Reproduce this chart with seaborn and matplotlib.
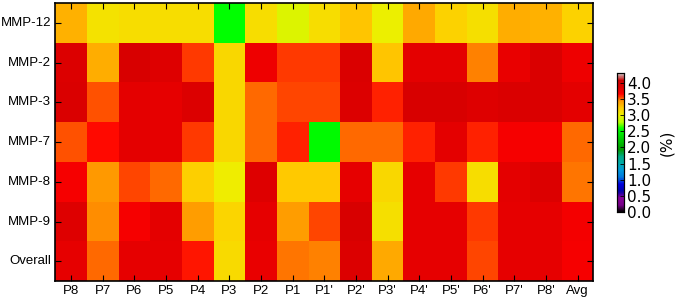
import numpy as np
import pandas as pd
import matplotlib
matplotlib.use("Agg")
import matplotlib.pyplot as plt
import seaborn as sns

# === datos ===
filas = ["MMP-12", "MMP-2", "MMP-3", "MMP-7", "MMP-8", "MMP-9", "Overall"]
columnas = ["P8", "P7", "P6", "P5", "P4", "P3", "P2", "P1", "P1'",
            "P2'", "P3'", "P4'", "P5'", "P6'", "P7'", "P8'", "Avg"]

mmp12 = [3.33, 3.08, 3.12, 3.12, 3.12, 2.57, 3.12, 2.93, 3.12, 3.25, 3.00, 3.37, 3.18, 3.10, 3.35, 3.33, 3.18]
mmp2 = [3.88, 3.35, 3.92, 3.85, 3.57, 3.15, 3.75, 3.57, 3.57, 3.90, 3.25, 3.82, 3.82, 3.47, 3.78, 3.90, 3.75]
mmp3 = [3.90, 3.54, 3.82, 3.80, 3.87, 3.15, 3.50, 3.55, 3.55, 3.87, 3.60, 3.92, 3.92, 3.85, 3.90, 3.90, 3.82]
mmp7 = [3.53, 3.63, 3.82, 3.80, 3.57, 3.15, 3.51, 3.60, 2.55, 3.50, 3.50, 3.60, 3.82, 3.60, 3.70, 3.70, 3.51]
mmp8 = [3.70, 3.44, 3.56, 3.51, 3.20, 3.02, 3.85, 3.23, 3.23, 3.80, 3.15, 3.80, 3.57, 3.12, 3.82, 3.87, 3.48]
mmp9 = [3.85, 3.46, 3.70, 3.82, 3.42, 3.17, 3.80, 3.41, 3.56, 3.92, 3.10, 3.80, 3.80, 3.57, 3.80, 3.80, 3.72]
overall = [3.80, 3.50, 3.80, 3.80, 3.62, 3.13, 3.78, 3.49, 3.47, 3.87, 3.37, 3.80, 3.80, 3.56, 3.80, 3.80, 3.70]

df = pd.DataFrame([mmp12, mmp2, mmp3, mmp7, mmp8, mmp9, overall],
                  index=filas, columns=columnas)

# === grafico ===
fig = plt.figure(figsize=(6.75, 3.0), dpi=100)
ax = fig.add_axes([0.082, 0.063, 0.797, 0.927])
cax = fig.add_axes([0.914, 0.293, 0.011, 0.463])

sns.heatmap(df, ax=ax, cbar_ax=cax, cmap="nipy_spectral", vmin=0, vmax=4.3,
            linewidths=0)

etiq_font = dict(family=["Liberation Sans", "DejaVu Sans"], size=9.5)
ax.set_xticklabels(columnas, rotation=0, **etiq_font)
ax.set_yticklabels(filas, rotation=0, **etiq_font)
ax.tick_params(axis="both", direction="in", length=4, width=0.8,
               top=True, right=True, color="black", pad=3)
for s in ax.spines.values():
    s.set_visible(True)
    s.set_linewidth(1.2)
    s.set_color("black")

cax.set_yticks([0.0, 0.5, 1.0, 1.5, 2.0, 2.5, 3.0, 3.5, 4.0])
cax.set_yticklabels(["0.0", "0.5", "1.0", "1.5", "2.0", "2.5", "3.0", "3.5", "4.0"],
                    family="DejaVu Sans", size=11)
cax.tick_params(direction="in", length=3, width=0.6, pad=2)
for s in cax.spines.values():
    s.set_visible(True)
    s.set_linewidth(0.8)
cax.set_ylabel("(%)", family="DejaVu Sans", size=11, labelpad=6)

fig.savefig("out.png", dpi=100)
